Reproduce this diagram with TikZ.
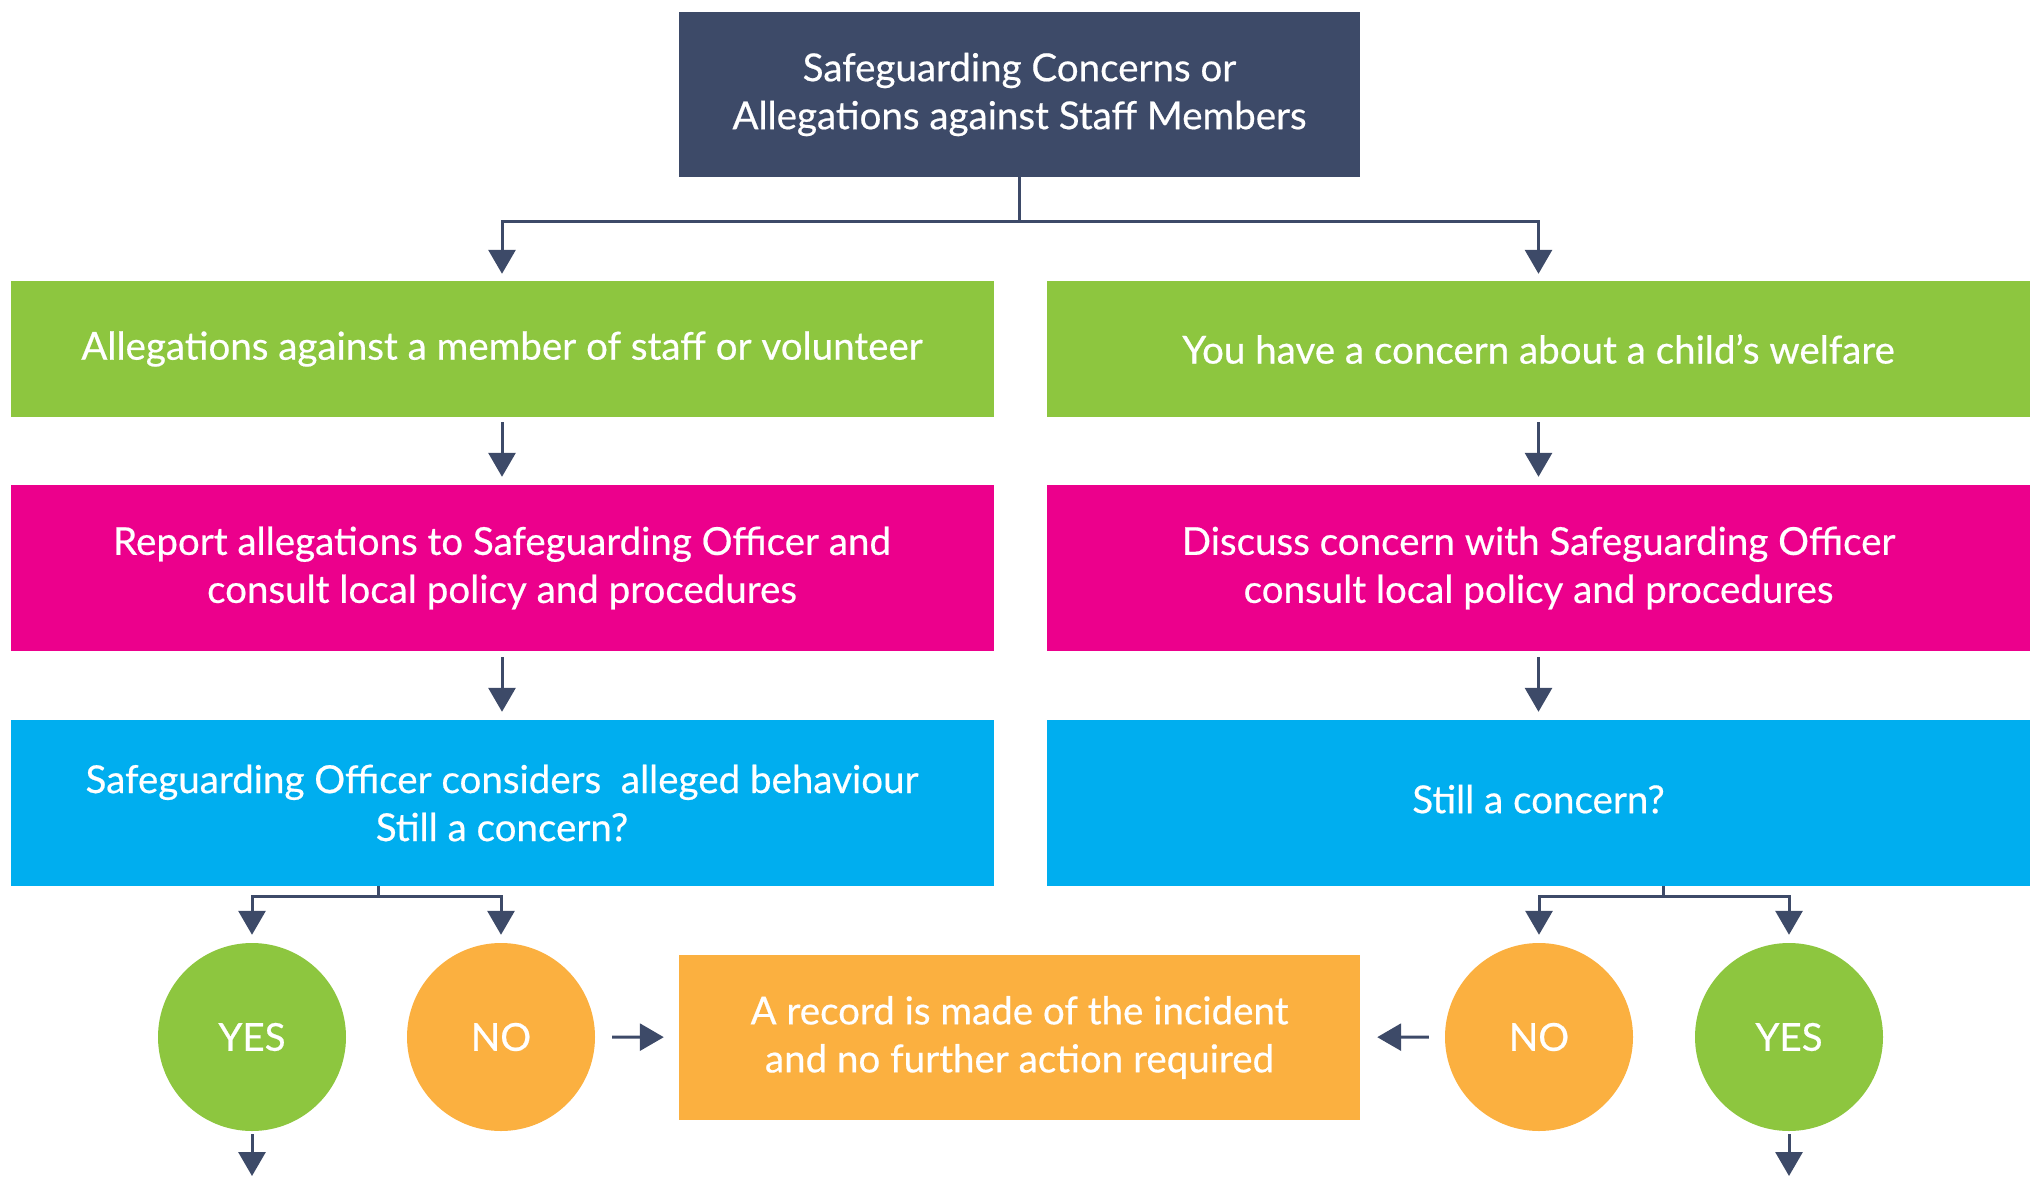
\documentclass[tikz,border=0pt]{standalone}
\usepackage{fontspec}
\setmainfont{Lato}[FakeBold=0.4]
\newfontfamily\medfont{Lato}[FakeBold=0.5]
\usetikzlibrary{arrows.meta}
\definecolor{navy}{HTML}{3D4A68}
\definecolor{cgreen}{HTML}{8DC63F}
\definecolor{cmag}{HTML}{EC008C}
\definecolor{cblue}{HTML}{00AEEF}
\definecolor{corange}{HTML}{FBB040}
\tikzset{
  box/.style={rectangle, inner sep=0pt, text=white, align=center, font=\medfont\fontsize{38.5}{48}\selectfont},
  wbox/.style={box, minimum width=983pt},
  circ/.style={circle, inner sep=0pt, minimum size=188pt, text=white, font=\medfont\fontsize{38.5}{44}\selectfont},
  conn/.style={draw=navy, line width=3pt},
  arr/.style={conn, -{Triangle[width=27pt,length=24pt]}},
}
\begin{document}
\begin{tikzpicture}[x=1pt,y=-1pt]
\useasboundingbox (0,0) rectangle (2037,1178);
\node[box, fill=navy, minimum width=681pt, minimum height=165pt] (top) at (1019.5,94.5) {Safeguarding Concerns or\\Allegations against Staff Members};
\node[wbox, fill=cgreen, minimum height=136pt] (gL) at (502,349) {Allegations against a member of staff or volunteer};
\node[wbox, fill=cgreen, minimum height=136pt] (gR) at (1538.5,349) {You have a concern about a child’s welfare};
\node[wbox, fill=cmag, minimum height=166pt] (mL) at (502,568) {Report allegations to Safeguarding Officer and\\consult local policy and procedures};
\node[wbox, fill=cmag, minimum height=166pt] (mR) at (1538.5,568) {Discuss concern with Safeguarding Officer\\consult local policy and procedures};
\node[wbox, fill=cblue, minimum height=166pt] (bL) at (502,803) {Safeguarding Officer considers\ \ alleged behaviour\\Still a concern?};
\node[wbox, fill=cblue, minimum height=166pt] (bR) at (1538.5,803) {\raisebox{8pt}{Still a concern?}};
\node[box, fill=corange, minimum width=681pt, minimum height=165pt] (rec) at (1019.5,1037.5) {A record is made of the incident\\and no further action required};
\node[circ, fill=cgreen] (yesL) at (252,1037) {YES};
\node[circ, fill=corange] (noL) at (501,1037) {NO};
\node[circ, fill=corange] (noR) at (1539,1037) {NO};
\node[circ, fill=cgreen] (yesR) at (1789,1037) {YES};
% top split
\coordinate (tj) at (1019.5,221);
\draw[conn] (top.south) -- (tj);
\draw[arr, shorten >=7pt] (tj) -| (gL.north);
\draw[arr, shorten >=7pt] (tj) -| (gR.north);
% vertical chains
\draw[arr, shorten <=5pt, shorten >=8pt] (gL) -- (mL);
\draw[arr, shorten <=5pt, shorten >=8pt] (gR) -- (mR);
\draw[arr, shorten <=6pt, shorten >=8pt] (mL) -- (bL);
\draw[arr, shorten <=6pt, shorten >=8pt] (mR) -- (bR);
% left branch
\coordinate (bjL) at (378,896);
\draw[conn] (bL.south -| bjL) -- (bjL);
\draw[arr, shorten >=8pt] (bjL) -| (yesL.north);
\draw[arr, shorten >=8pt] (bjL) -| (noL.north);
% right branch
\coordinate (bjR) at (1663,896);
\draw[conn] (bR.south -| bjR) -- (bjR);
\draw[arr, shorten >=8pt] (bjR) -| (noR.north);
\draw[arr, shorten >=8pt] (bjR) -| (yesR.north);
% to record
\draw[arr, shorten <=17pt, shorten >=15pt] (noL) -- (rec);
\draw[arr, shorten <=16pt, shorten >=17pt] (noR) -- (rec);
% outgoing
\coordinate (endL) at (252,1176);
\coordinate (endR) at (1789,1176);
\draw[arr, shorten <=3pt] (yesL) -- (endL);
\draw[arr, shorten <=3pt] (yesR) -- (endR);
\end{tikzpicture}
\end{document}
